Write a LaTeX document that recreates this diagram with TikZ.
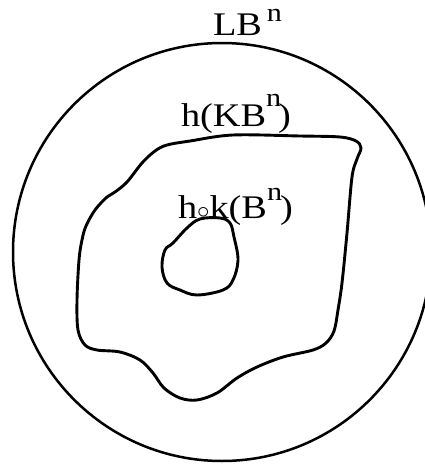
\documentclass[tikz,border=0pt]{standalone}
\usepackage{fontspec}
\setmainfont{Liberation Serif}[FakeStretch=1.16]
\usetikzlibrary{positioning}
\newcommand{\supn}[1]{\raisebox{#1}{\fontsize{26}{28}\selectfont n}}

\begin{document}
\begin{tikzpicture}[x=1pt, y=-1pt,
    every node/.style={font=\fontsize{33}{36}\selectfont},
    lbl/.style={anchor=base west, inner sep=0pt, outer sep=0pt},
    rim/.style={line width=2.5pt},
    region/.style={line width=2.9pt, line join=round}
]
    \useasboundingbox (0,0) rectangle (425,466);

    \draw[rim] (222,252) circle[radius=209pt];

    \draw[region] plot[smooth cycle, tension=0.55] coordinates {
        (190,141) (233,135) (300,136) (340,137) (356,141) (361,148)
        (357,159) (352,177) (347,233) (342,283) (338,310) (334,331)
        (326,343) (313,350) (283,357) (257,367) (237,378) (217,393)
        (197,400) (180,398) (164,388) (153,373) (140,360) (120,352)
        (97,350) (85,345) (78,330) (77,300) (79,260) (82,240)
        (86,226) (95,210) (107,197) (115,192) (127,182) (142,163)
        (155,151) (167,145)};

    \draw[region] plot[smooth cycle, tension=0.6] coordinates {
        (200,219) (220,218) (230,223) (234,237) (238,260) (233,280)
        (223,290) (197,295) (180,290) (167,283) (162,267) (165,250)
        (173,243) (187,228)};

    \node[lbl] (lbn) at (213,35) {LB\kern5pt\supn{14pt}};
    \node[lbl] (hkbn) at (181,126) {h(KB\supn{20pt}\kern-3pt)};
    \node[lbl] (hkn) at (178,218.5) {h${\scriptstyle\circ}$k(B\supn{18pt}\kern-2pt)};
\end{tikzpicture}
\end{document}
